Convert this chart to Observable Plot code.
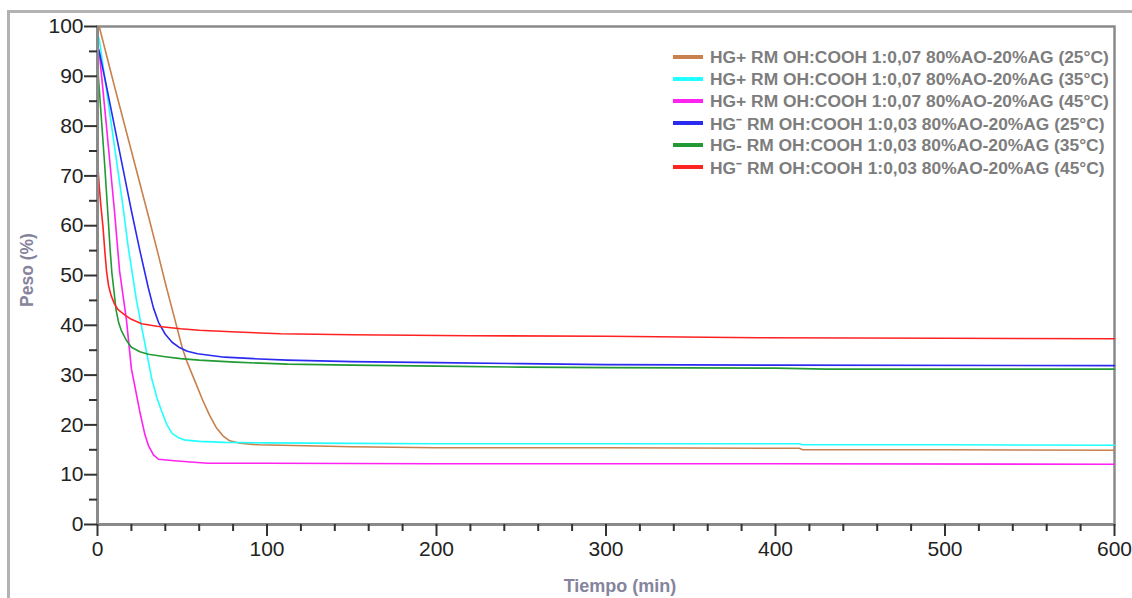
<!DOCTYPE html>
<html>
<head>
<meta charset="utf-8">
<script src="https://cdn.jsdelivr.net/npm/d3@7"></script>
<script src="https://cdn.jsdelivr.net/npm/@observablehq/plot@0.6"></script>
<style>
  html, body { margin: 0; padding: 0; background: #fff; }
  body { width: 1132px; height: 598px; position: relative; overflow: hidden; font-family: "Liberation Sans", Arial, sans-serif; }
  #border { position: absolute; left: 7px; top: 10px; width: 1200px; height: 700px; border-top: 3px solid #b3b3b3; border-left: 3px solid #b3b3b3; }
  #chart { position: absolute; left: 0; top: 0; }
  #legend { position: absolute; left: 673px; top: 46px; }
  .row { height: 22px; display: flex; align-items: center; white-space: nowrap; }
  .sw { width: 30px; height: 4px; margin-right: 7px; }
  .lab { font: bold 17.4px "Liberation Sans", Arial, sans-serif; color: #7d7d7d; }
</style>
</head>
<body>
<div id="border"></div>
<div id="chart"></div>
<div id="legend"></div>
<script>
// Series names
const seriesNames = [
  "HG+ RM OH:COOH 1:0,07 80%AO-20%AG (25°C)",
  "HG+ RM OH:COOH 1:0,07 80%AO-20%AG (35°C)",
  "HG+ RM OH:COOH 1:0,07 80%AO-20%AG (45°C)",
  "HG\u207B RM OH:COOH 1:0,03 80%AO-20%AG (25°C)",
  "HG-  RM OH:COOH 1:0,03 80%AO-20%AG (35°C)",
  "HG\u207B RM OH:COOH 1:0,03 80%AO-20%AG (45°C)"
];
const seriesColors = ["#c8804c", "#22ffff", "#ff22f0", "#2a2af0", "#229a33", "#ff2222"];

// Time (min) and weight (%) per series
const t1 = [0, 1, 10, 20, 30, 36, 40, 45, 50, 53, 57, 62, 66, 70, 74, 78, 84, 95, 150, 200, 300, 414, 416, 500, 600];
const w1 = [100, 100, 88, 75, 62, 54, 48.5, 42, 35.5, 32.5, 29.2, 25, 22, 19.5, 17.8, 16.8, 16.3, 16, 15.6, 15.4, 15.4, 15.3, 15.0, 15.0, 14.9];

const t2 = [0, 1, 5, 10, 15, 18, 23, 27, 32, 35, 38, 41, 44, 48, 51, 60, 75, 100, 150, 200, 300, 414, 416, 500, 600];
const w2 = [98.5, 97.5, 88, 76, 64, 56, 45, 38, 29.3, 25.5, 22.6, 20, 18.3, 17.4, 17, 16.7, 16.5, 16.4, 16.3, 16.2, 16.2, 16.2, 16.0, 16.0, 15.9];

const t3 = [0, 1, 5, 10, 13, 17, 20, 25, 28, 30, 33, 36, 42, 49, 65, 100, 200, 300, 400, 600];
const w3 = [96, 95, 81, 63, 51, 41.3, 31.3, 22.6, 18, 15.9, 14, 13.1, 12.9, 12.7, 12.3, 12.3, 12.2, 12.2, 12.2, 12.1];

const t4 = [0, 1, 5, 10, 15, 20, 25, 30, 33, 36, 40, 44, 48, 53, 59, 75, 92, 112, 150, 200, 250, 300, 400, 600];
const w4 = [96, 95, 88.5, 80, 71.5, 63, 55, 47.5, 43.5, 40.6, 38.2, 36.6, 35.6, 34.8, 34.3, 33.6, 33.3, 33, 32.7, 32.5, 32.3, 32.1, 32, 31.9];

const t5 = [0, 0.5, 2.4, 4.2, 6, 7.5, 8.5, 9.5, 11, 12.5, 14, 17, 20, 25, 30, 40, 49, 60, 81, 112, 150, 200, 250, 300, 400, 430, 600];
const w5 = [93, 90, 81, 72.4, 63, 55, 50.5, 47.5, 43, 40.5, 39, 37, 35.6, 34.7, 34.2, 33.7, 33.3, 33, 32.6, 32.2, 32, 31.8, 31.6, 31.5, 31.4, 31.2, 31.2];

const t6 = [0, 0.3, 1, 2, 3.3, 4.3, 5.3, 6.5, 8, 10, 12, 16, 20, 26, 35, 49, 60, 79, 108, 150, 220, 300, 390, 500, 600];
const w6 = [68, 71.5, 68, 64, 59.5, 55, 51, 48, 46, 44.3, 43.2, 42.1, 41.2, 40.3, 39.8, 39.3, 39, 38.7, 38.3, 38.1, 37.9, 37.8, 37.5, 37.4, 37.3];

const times = [t1, t2, t3, t4, t5, t6];
const weights = [w1, w2, w3, w4, w5, w6];

const xMajor = [0, 100, 200, 300, 400, 500, 600];
const xMinor = [20, 40, 60, 80, 120, 140, 160, 180, 220, 240, 260, 280, 320, 340, 360, 380, 420, 440, 460, 480, 520, 540, 560, 580];
const yMajor = [0, 10, 20, 30, 40, 50, 60, 70, 80, 90, 100];
const yMinor = [5, 15, 25, 35, 45, 55, 65, 75, 85, 95];

const rows = [];
seriesNames.forEach((name, i) => {
  times[i].forEach((t, j) => rows.push({series: name, t, w: weights[i][j]}));
});

const tickFont = {fontSize: 21, fill: "#222", fontFamily: "Liberation Sans, Arial, sans-serif"};

const chart = Plot.plot({
  width: 1132,
  height: 598,
  marginLeft: 97,
  marginRight: 18,
  marginTop: 26,
  marginBottom: 74,
  style: {fontFamily: "Liberation Sans, Arial, sans-serif", background: "transparent"},
  x: {domain: [0, 600]},
  y: {domain: [0, 100]},
  color: {domain: seriesNames, range: seriesColors},
  marks: [
    Plot.frame({stroke: "#8a8a8a", strokeWidth: 2.5}),
    Plot.line(rows, {x: "t", y: "w", z: "series", stroke: "series", strokeWidth: 1.6}),
    Plot.ruleX([0], {stroke: "#8a8a8a", strokeWidth: 3}),
    Plot.ruleY([0], {stroke: "#8a8a8a", strokeWidth: 3}),
    Plot.axisY(yMajor, {tickSize: 13, tickPadding: 1, stroke: "#333", strokeWidth: 2, label: null, ...tickFont}),
    Plot.axisY(yMinor, {tickSize: 8, stroke: "#333", strokeWidth: 2, tickFormat: () => "", label: null}),
    Plot.axisX(xMajor, {tickSize: 12, tickPadding: 5, stroke: "#333", strokeWidth: 2, label: null, ...tickFont}),
    Plot.axisX(xMinor, {tickSize: 7, stroke: "#333", strokeWidth: 2, tickFormat: () => "", label: null})
  ]
});
document.getElementById("chart").appendChild(chart);

// Axis titles
const svg = d3.select(chart);
svg.append("text")
  .attr("x", 620).attr("y", 592)
  .attr("text-anchor", "middle")
  .attr("font-size", 18).attr("font-weight", "bold")
  .attr("fill", "#85849c")
  .text("Tiempo (min)");
svg.append("text")
  .attr("transform", "translate(33,270) rotate(-90)")
  .attr("text-anchor", "middle")
  .attr("font-size", 17.5).attr("font-weight", "bold")
  .attr("fill", "#85849c")
  .text("Peso (%)");

// Legend
const leg = d3.select("#legend");
seriesNames.forEach((name, i) => {
  const r = leg.append("div").attr("class", "row");
  r.append("div").attr("class", "sw").style("background", seriesColors[i]);
  r.append("div").attr("class", "lab").text(name);
});
</script>
</body>
</html>
